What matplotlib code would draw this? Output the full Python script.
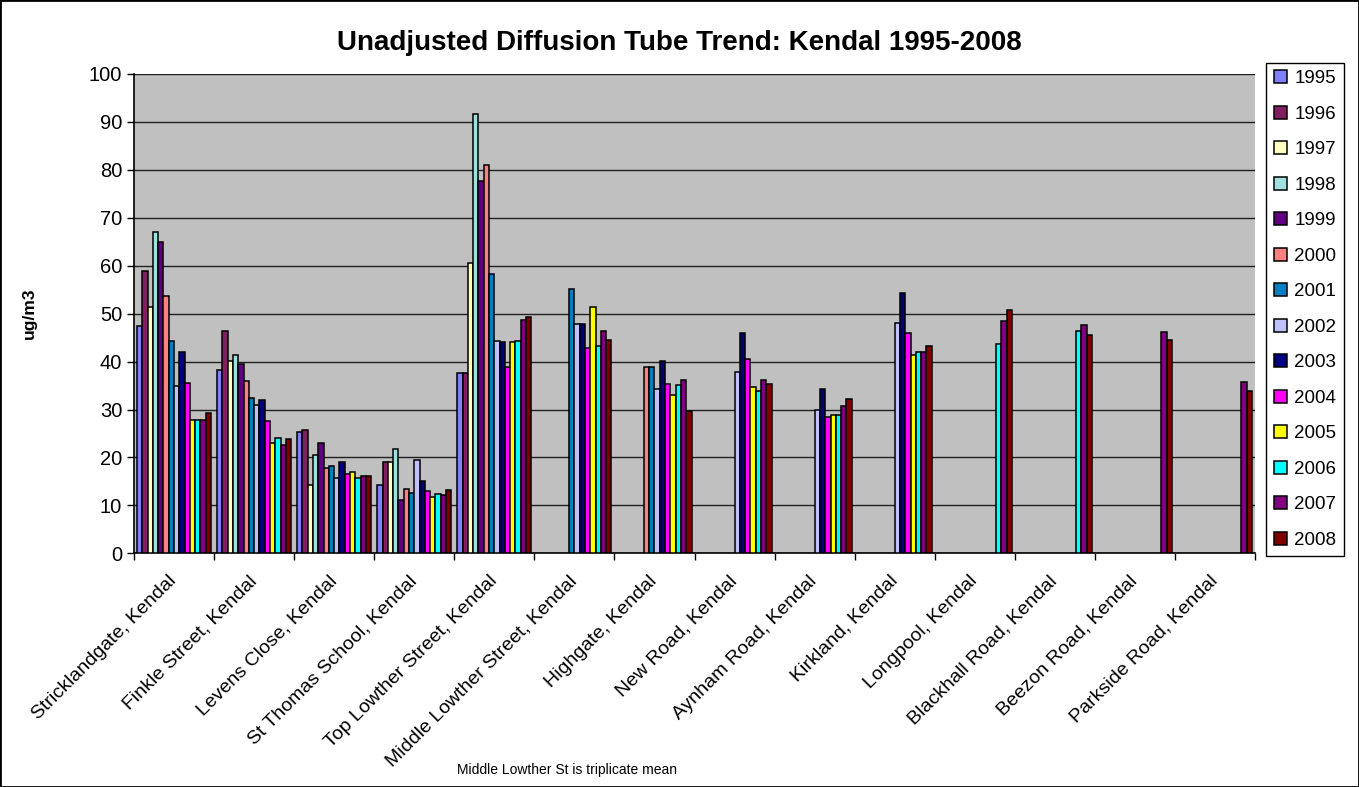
import numpy as np
import matplotlib
matplotlib.use('Agg')
import matplotlib.pyplot as plt
from matplotlib.patches import Rectangle

plt.rcParams['font.family'] = ['Liberation Sans', 'DejaVu Sans']

# Sites along the x axis
sites = ['Stricklandgate, Kendal', 'Finkle Street, Kendal', 'Levens Close, Kendal',
         'St Thomas School, Kendal', 'Top Lowther Street, Kendal',
         'Middle Lowther Street, Kendal', 'Highgate, Kendal', 'New Road, Kendal',
         'Aynham Road, Kendal', 'Kirkland, Kendal', 'Longpool, Kendal',
         'Blackhall Road, Kendal', 'Beezon Road, Kendal', 'Parkside Road, Kendal']

years = ['1995', '1996', '1997', '1998', '1999', '2000', '2001',
         '2002', '2003', '2004', '2005', '2006', '2007', '2008']

colors = ['#8080FF', '#802060', '#FFFFC0', '#A0E0E0', '#600080', '#FF8080', '#0080C0',
          '#C0C0FF', '#000080', '#FF00FF', '#FFFF00', '#00FFFF', '#800080', '#800000']

# Annual mean NO2 (ug/m3) per year, one value per site (None = no tube that year)
y1995 = [47.4, 38.3, 25.4, 14.2, 37.7, None, None, None, None, None, None, None, None, None]
y1996 = [58.8, 46.3, 25.7, 19.1, 37.7, None, None, None, None, None, None, None, None, None]
y1997 = [51.3, 40.2, 14.2, 19.1, 60.6, None, None, None, None, None, None, None, None, None]
y1998 = [67.0, 41.4, 20.5, 21.7, 91.7, None, None, None, None, None, None, None, None, None]
y1999 = [65.0, 39.5, 23.0, 11.1, 77.6, None, None, None, None, None, None, None, None, None]
y2000 = [53.7, 35.9, 17.8, 13.5, 81.0, None, 38.9, None, None, None, None, None, None, None]
y2001 = [44.3, 32.5, 18.2, 12.6, 58.2, 55.2, 38.9, None, None, None, None, None, None, None]
y2002 = [34.9, 30.9, 15.8, 19.4, 44.4, 47.8, 34.3, 37.8, 29.9, 48.0, None, None, None, None]
y2003 = [41.9, 32.0, 19.1, 15.1, 44.0, 47.8, 40.1, 46.0, 34.3, 54.3, None, None, None, None]
y2004 = [35.6, 27.7, 16.5, 13.1, 38.8, 42.8, 35.4, 40.6, 28.4, 46.0, None, None, None, None]
y2005 = [27.8, 23.0, 17.0, 11.8, 44.0, 51.3, 33.1, 34.8, 28.9, 41.3, None, None, None, None]
y2006 = [27.8, 24.1, 15.7, 12.3, 44.4, 43.2, 35.1, 33.9, 28.9, 42.1, 43.6, 46.4, None, None]
y2007 = [27.8, 22.7, 16.2, 12.1, 48.7, 46.4, 36.2, 36.2, 30.8, 42.1, 48.4, 47.6, 46.1, 35.8]
y2008 = [29.3, 23.8, 16.2, 13.2, 49.4, 44.5, 29.6, 35.4, 32.3, 43.2, 50.8, 45.6, 44.6, 33.8]

series = [y1995, y1996, y1997, y1998, y1999, y2000, y2001,
          y2002, y2003, y2004, y2005, y2006, y2007, y2008]

fig = plt.figure(figsize=(13.59, 7.87), dpi=100)
ax = fig.add_axes([0.0986, 0.2969, 0.8249, 0.6091])
ax.set_facecolor('#C0C0C0')

x = np.arange(len(sites))
group = 0.925
w = group / len(years)
handles = []
for j, (yr, vals, col) in enumerate(zip(years, series, colors)):
    v = np.array([np.nan if a is None else a for a in vals], dtype=float)
    b = ax.bar(x - group / 2 + w * (j + 0.5), v, width=w, color=col,
               edgecolor='black', linewidth=1.1, label=yr, zorder=3)
    handles.append(b)

ax.set_xlim(-0.5, len(sites) - 0.5)
ax.set_ylim(0, 100)
ax.set_yticks(np.arange(0, 101, 10))
ax.yaxis.grid(True, color='#202020', linewidth=1.0)
ax.set_axisbelow(True)
ax.tick_params(axis='y', labelsize=14.5, length=5, width=1, direction='out')

# category boundaries carry the tick marks, centres carry the names
ax.set_xticks(np.arange(len(sites) + 1) - 0.5)
ax.set_xticklabels([])
ax.tick_params(axis='x', which='major', length=5, width=1, direction='out')
ax.set_xticks(x, minor=True)
ax.set_xticklabels(sites, minor=True, rotation=45, ha='right', va='center',
                   rotation_mode='anchor', fontsize=14)
ax.tick_params(axis='x', which='minor', length=0, pad=18)

for s in ['top', 'right']:
    ax.spines[s].set_visible(False)
ax.spines['left'].set_linewidth(1.2)
ax.spines['bottom'].set_linewidth(1.2)

ax.set_ylabel('ug/m3', fontsize=12.5, fontweight='bold')
ax.yaxis.set_label_coords(-0.087, 0.5)

fig.text(0.5, 0.945, 'Unadjusted Diffusion Tube Trend: Kendal 1995-2008',
         ha='center', va='center', fontsize=20, fontweight='bold')
fig.text(567 / 1359, 1 - 770 / 787, 'Middle Lowther St is triplicate mean',
         ha='center', va='center', fontsize=10)

leg = fig.legend(handles, years, loc='center left', bbox_to_anchor=(0.9316, 0.6067),
                 borderaxespad=0, fontsize=13.5, handlelength=0.7, handleheight=0.7,
                 handletextpad=0.4, labelspacing=0.98, fancybox=False, framealpha=1,
                 edgecolor='black', borderpad=0.4)
leg.get_frame().set_linewidth(1.0)

fig.add_artist(Rectangle((0, 0), 1, 1, transform=fig.transFigure, fill=False,
                         edgecolor='black', linewidth=2))

fig.savefig('out.png', dpi=100)
